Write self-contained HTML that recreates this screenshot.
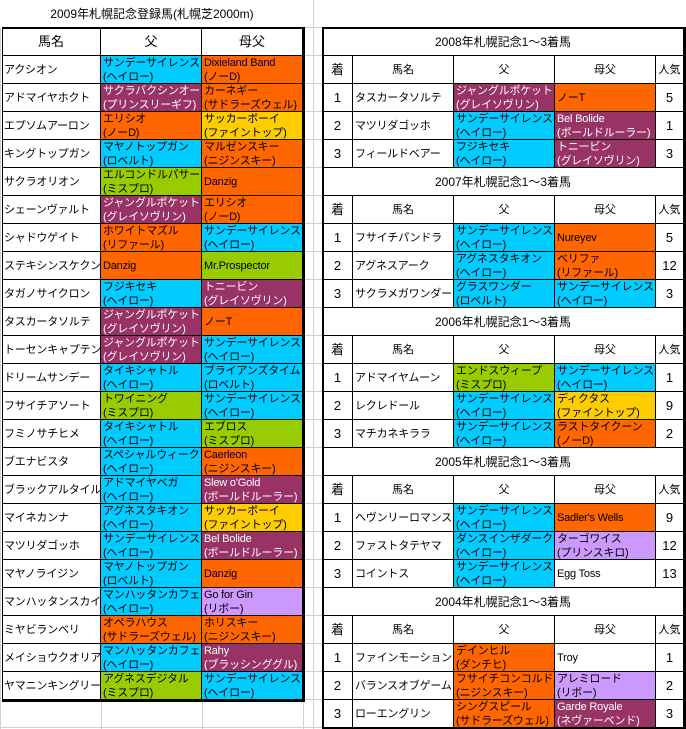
<!DOCTYPE html>
<html><head><meta charset="utf-8">
<style>
html,body{margin:0;padding:0;background:#fff;}
#root{position:relative;width:686px;height:729px;overflow:hidden;background:#fff;font-family:"Liberation Sans","Noto Sans CJK JP",sans-serif;color:#000;}
.c{position:absolute;box-sizing:border-box;border-right:1px solid #000;border-bottom:1px solid #000;font-size:11px;line-height:14px;overflow:hidden;white-space:nowrap;}
.c .t{position:absolute;left:2px;right:0;top:50%;transform:translateY(-50%);letter-spacing:-0.2px;}
.c.ctr .t{left:0;text-align:center;letter-spacing:0;}
.ln{position:absolute;background:#000;}
.gl{position:absolute;background:#d0d0d0;}
</style></head>
<body>
<div id="root"></div>
<script>
const COL={B:'#00CCFF',O:'#FF6600',P:'#993366',Y:'#FFCC00',G:'#99CC00',L:'#CC99FF',W:'#FFFFFF'};
const leftNames=['アクシオン','アドマイヤホクト','エプソムアーロン','キングトップガン','サクラオリオン','シェーンヴァルト','シャドウゲイト','ステキシンスケクン','タガノサイクロン','タスカータソルテ','トーセンキャプテン','ドリームサンデー','フサイチアソート','フミノサチヒメ','ブエナビスタ','ブラックアルタイル','マイネカンナ','マツリダゴッホ','マヤノライジン','マンハッタンスカイ','ミヤビランベリ','メイショウクオリア','ヤマニンキングリー'];
const SS='サンデーサイレンス|(ヘイロー)';
const JP='ジャングルポケット|(グレイソヴリン)';
const leftSires=[SS,'サクラバクシンオー|(プリンスリーギフ)','エリシオ|(ノーD)','マヤノトップガン|(ロベルト)','エルコンドルパサー|(ミスプロ)',JP,'ホワイトマズル|(リファール)','Danzig','フジキセキ|(ヘイロー)',JP,JP,'タイキシャトル|(ヘイロー)','トワイニング|(ミスプロ)','タイキシャトル|(ヘイロー)','スペシャルウィーク|(ヘイロー)','アドマイヤベガ|(ヘイロー)','アグネスタキオン|(ヘイロー)',SS,'マヤノトップガン|(ロベルト)','マンハッタンカフェ|(ヘイロー)','オペラハウス|(サドラーズウェル)','マンハッタンカフェ|(ヘイロー)','アグネスデジタル|(ミスプロ)'];
const leftSireCol=['B','P','O','B','G','P','O','O','B','P','P','B','G','B','B','B','B','B','B','B','O','B','G'];
const leftBms=['Dixieland Band|(ノーD)','カーネギー|(サドラーズウェル)','サッカーボーイ|(ファイントップ)','マルゼンスキー|(ニジンスキー)','Danzig','エリシオ|(ノーD)',SS,'Mr.Prospector','トニービン|(グレイソヴリン)','ノーT',SS,'ブライアンズタイム|(ロベルト)',SS,'エブロス|(ミスプロ)','Caerleon|(ニジンスキー)',"Slew o'Gold|(ボールドルーラー)",'サッカーボーイ|(ファイントップ)','Bel Bolide|(ボールドルーラー)','Danzig','Go for Gin|(リボー)','ホリスキー|(ニジンスキー)','Rahy|(ブラッシンググル)',SS];
const leftBmsCol=['O','O','Y','O','O','O','B','G','P','O','B','B','B','G','O','P','Y','P','O','L','O','P','B'];

const years=['2008','2007','2006','2005','2004'];
const rNames=[['タスカータソルテ','マツリダゴッホ','フィールドベアー'],['フサイチパンドラ','アグネスアーク','サクラメガワンダー'],['アドマイヤムーン','レクレドール','マチカネキララ'],['ヘヴンリーロマンス','ファストタテヤマ','コイントス'],['ファインモーション','バランスオブゲーム','ローエングリン']];
const rSires=[[JP,SS,'フジキセキ|(ヘイロー)'],[SS,'アグネスタキオン|(ヘイロー)','グラスワンダー|(ロベルト)'],['エンドスウィープ|(ミスプロ)',SS,SS],[SS,'ダンスインザダーク|(ヘイロー)',SS],['デインヒル|(ダンチヒ)','フサイチコンコルド|(ニジンスキー)','シングスピール|(サドラーズウェル)']];
const rSireCol=[['P','B','B'],['B','B','B'],['G','B','B'],['B','B','B'],['O','O','O']];
const rBms=[['ノーT','Bel Bolide|(ボールドルーラー)','トニービン|(グレイソヴリン)'],['Nureyev','ベリファ|(リファール)',SS],[SS,'ディクタス|(ファイントップ)','ラストタイクーン|(ノーD)'],["Sadler's Wells",'ターゴワイス|(プリンスキロ)','Egg Toss'],['Troy','アレミロード|(リボー)','Garde Royale|(ネヴァーベンド)']];
const rBmsCol=[['O','P','P'],['O','O','B'],['B','Y','O'],['O','L','W'],['W','L','P']];
const rPop=[[5,1,3],[5,12,3],[1,9,2],[9,12,13],[1,2,3]];

const root=document.getElementById('root');
function cell(x,y,w,h,text,color,center,name,fs){
  const el=document.createElement('div');
  el.className='c'+(center?' ctr':'');
  
  
  el.style.left=x+'px';el.style.top=y+'px';el.style.width=w+'px';el.style.height=h+'px';
  el.style.background=COL[color]||'#fff';
  if(color==='P') el.style.color='#fff';
  const t=document.createElement('div');
  t.className='t';
  t.innerHTML=String(text).split('|').join('<br>');
  if(fs) t.style.fontSize=fs+'px';
  el.appendChild(t);
  root.appendChild(el);
  return el;
}
function line(x,y,w,h,name){
  const el=document.createElement('div');
  el.className='ln';
  
  
  el.style.left=x+'px';el.style.top=y+'px';el.style.width=w+'px';el.style.height=h+'px';
  root.appendChild(el);
}
function grid(x,y,w,h){
  const el=document.createElement('div');
  el.className='gl';
  
  
  el.style.left=x+'px';el.style.top=y+'px';el.style.width=w+'px';el.style.height=h+'px';
  root.appendChild(el);
}
grid(0,0,1,729);grid(303,0,1,729);grid(313,0,1,729);
for(let y=27;y<729;y+=28){grid(305,y,18,1);}
grid(0,727,305,1);
grid(101,700,1,29);grid(202,700,1,29);

const title=cell(0,0,304,28,'2009年札幌記念登録馬(札幌芝2000m)','W',true,'sheet-title',12);
title.style.border='none';
const LX=[2,101,202,303];
cell(LX[0],28,99,28,'馬名','W',true,'header-horse-name',13);
cell(LX[1],28,101,28,'父','W',true,'header-sire',13);
cell(LX[2],28,101,28,'母父','W',true,'header-broodmare-sire',13);
for(let i=0;i<leftNames.length;i++){
  const y=56+i*28;
  cell(LX[0],y,99,28,leftNames[i],'W',false,'horse-name');
  cell(LX[1],y,101,28,leftSires[i],leftSireCol[i],false,'sire');
  cell(LX[2],y,101,28,leftBms[i],leftBmsCol[i],false,'broodmare-sire');
}
line(2,28,1,672,'left-table-border');
line(2,27,303,2,'left-table-top-border');
line(302,27,3,675,'left-table-right-border');
line(2,699,303,3,'left-table-bottom-border');

const RX=[323,353,454,555,656,684];
for(let s=0;s<years.length;s++){
  const y0=28+s*140;
  cell(RX[0],y0,RX[5]-RX[0],28,years[s]+'年札幌記念1～3着馬','W',true,'section-title',12);
  const hd=['着','馬名','父','母父','人気'];
  for(let c=0;c<5;c++) cell(RX[c],y0+28,RX[c+1]-RX[c],28,hd[c],'W',true,'column-header',c===0?13:11);
  for(let r=0;r<3;r++){
    const y=y0+56+r*28;
    cell(RX[0],y,30,28,r+1,'W',true,'finish-position',13);
    cell(RX[1],y,101,28,rNames[s][r],'W',false,'horse-name');
    cell(RX[2],y,101,28,rSires[s][r],rSireCol[s][r],false,'sire');
    cell(RX[3],y,101,28,rBms[s][r],rBmsCol[s][r],false,'broodmare-sire');
    cell(RX[4],y,28,28,rPop[s][r],'W',true,'popularity',13);
  }
}
line(322,27,364,2,'right-table-top-border');
line(322,27,2,702,'right-table-left-border');
line(684,27,2,702,'right-table-right-border');
line(322,727,364,2,'right-table-bottom-border');
</script>
</body></html>
